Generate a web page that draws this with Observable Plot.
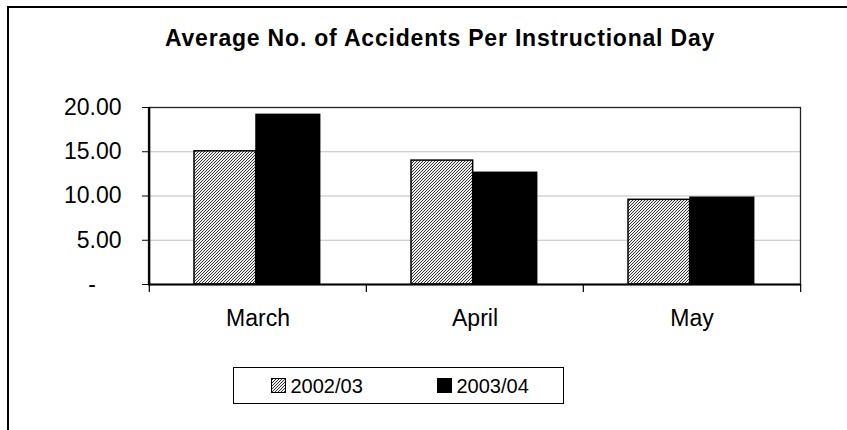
<!DOCTYPE html>
<html><head><meta charset="utf-8">
<script src="https://cdn.jsdelivr.net/npm/d3@7"></script>
<script src="https://cdn.jsdelivr.net/npm/@observablehq/plot@0.6"></script>
<style>
body{margin:0;background:#fff;font-family:"Liberation Sans",Arial,sans-serif;color:#000;}
#wrap{position:relative;width:847px;height:430px;overflow:hidden;background:#fff;}
#border{position:absolute;left:7px;top:6px;width:950px;height:550px;border-left:2px solid #000;border-top:2px solid #000;}
#title{position:absolute;left:0;width:880px;top:27px;text-align:center;font-weight:bold;font-size:23px;line-height:23px;letter-spacing:0.8px;white-space:nowrap;}
#chart{position:absolute;left:0;top:80px;}
#legend{position:absolute;left:233px;top:367px;width:329px;height:35px;border:1.5px solid #000;}
.item{position:absolute;top:0;height:35px;display:flex;align-items:center;font-size:20px;line-height:20px;white-space:nowrap;}
.item svg{margin-right:5px;display:block;}
</style></head>
<body>
<div id="wrap">
  <div id="border"></div>
  <div id="title"></div>
  <div id="chart"></div>
  <div id="legend"></div>
</div>
<svg width="0" height="0" style="position:absolute">
  <defs>
    <pattern id="hatchL" patternUnits="userSpaceOnUse" width="3" height="3">
      <rect width="3" height="3" fill="#ececec"></rect>
      <path d="M-1,1 l2,-2 M0,3 l3,-3 M2,4 l2,-2" stroke="#3a3a3a" stroke-width="1"></path>
    </pattern>
  </defs>
</svg>
<script>
const titleText = "Average No. of Accidents Per Instructional Day";
const months = ["March", "April", "May"];
const series = ["2002/03", "2003/04"];
const values2002 = [15.05, 14.0, 9.57];
const values2003 = [19.17, 12.62, 9.8];
const yTicks = [0, 5, 10, 15, 20];
const gridTicks = [5, 10, 15];

const data = months.flatMap((m, i) => [
  {month: m, series: series[0], value: values2002[i]},
  {month: m, series: series[1], value: values2003[i]}
]);

const W = 847, H = 260, mL = 148, mR = 47, mT = 27, mB = 56;
const bw = (W - mL - mR) / months.length;

document.getElementById("title").textContent = titleText;

const fmt = d3.format(".2f");
const chart = Plot.plot({
  width: W, height: H,
  marginLeft: mL, marginRight: mR, marginTop: mT, marginBottom: mB,
  style: {fontFamily: "'Liberation Sans', Arial, sans-serif", fontSize: "23px", color: "#000", background: "transparent", overflow: "visible"},
  x: {domain: months, padding: 0},
  y: {domain: [0, 20]},
  marks: [
    Plot.gridY(gridTicks, {stroke: "#c0c0c0", strokeOpacity: 1, strokeWidth: 1.2}),
    Plot.frame({stroke: "#222", strokeWidth: 1.3}),
    Plot.barY(data.filter(d => d.series === series[0]), {x: "month", y: "value", fill: "url(#hatch)", stroke: "#000", strokeWidth: 1.5, insetLeft: 45, insetRight: bw - 107}),
    Plot.barY(data.filter(d => d.series === series[1]), {x: "month", y: "value", fill: "#000", stroke: "#000", strokeWidth: 1.5, insetLeft: 107, insetRight: bw - 171}),
    Plot.ruleX([months[0]], {dx: -bw / 2, y1: 0, y2: 20, stroke: "#000", strokeWidth: 2}),
    Plot.ruleY([0], {stroke: "#000", strokeWidth: 2.2}),
    Plot.ruleX(months, {x: d => d, dx: -bw / 2, y1: 0, y2: 0, insetBottom: -8, stroke: "#000", strokeWidth: 1.2}),
    Plot.ruleX([months[months.length - 1]], {dx: bw / 2, y1: 0, y2: 0, insetBottom: -8, stroke: "#000", strokeWidth: 1.2}),
    Plot.axisY(yTicks, {tickSize: 6, tickPadding: 21, label: null, fontSize: 23, stroke: "#000",
      tickFormat: d => d === 0 ? "-\u00a0\u00a0\u00a0\u00a0" : fmt(d)}),
    Plot.axisX({tickSize: 0, tickPadding: 25, label: null, fontSize: 23})
  ]
});

const defs = d3.select(chart).insert("defs", ":first-child");
const pat = defs.append("pattern").attr("id", "hatch").attr("patternUnits", "userSpaceOnUse").attr("width", 3).attr("height", 3);
pat.append("rect").attr("width", 3).attr("height", 3).attr("fill", "#ececec");
pat.append("path").attr("d", "M-1,1 l2,-2 M0,3 l3,-3 M2,4 l2,-2").attr("stroke", "#3a3a3a").attr("stroke-width", 1);

document.getElementById("chart").appendChild(chart);

// legend
const legend = document.getElementById("legend");
const legendLeft = [36.5, 202.5];
const legendFill = ["url(#hatchL)", "#000"];
series.forEach((s, i) => {
  const item = document.createElement("div");
  item.className = "item";
  item.style.left = legendLeft[i] + "px";
  item.innerHTML = `<svg width="15" height="15"><rect x="0.5" y="0.5" width="14" height="14" fill="${legendFill[i]}" stroke="#000" stroke-width="1"></rect></svg><span></span>`;
  item.querySelector("span").textContent = s;
  legend.appendChild(item);
});
</script>
</body></html>
